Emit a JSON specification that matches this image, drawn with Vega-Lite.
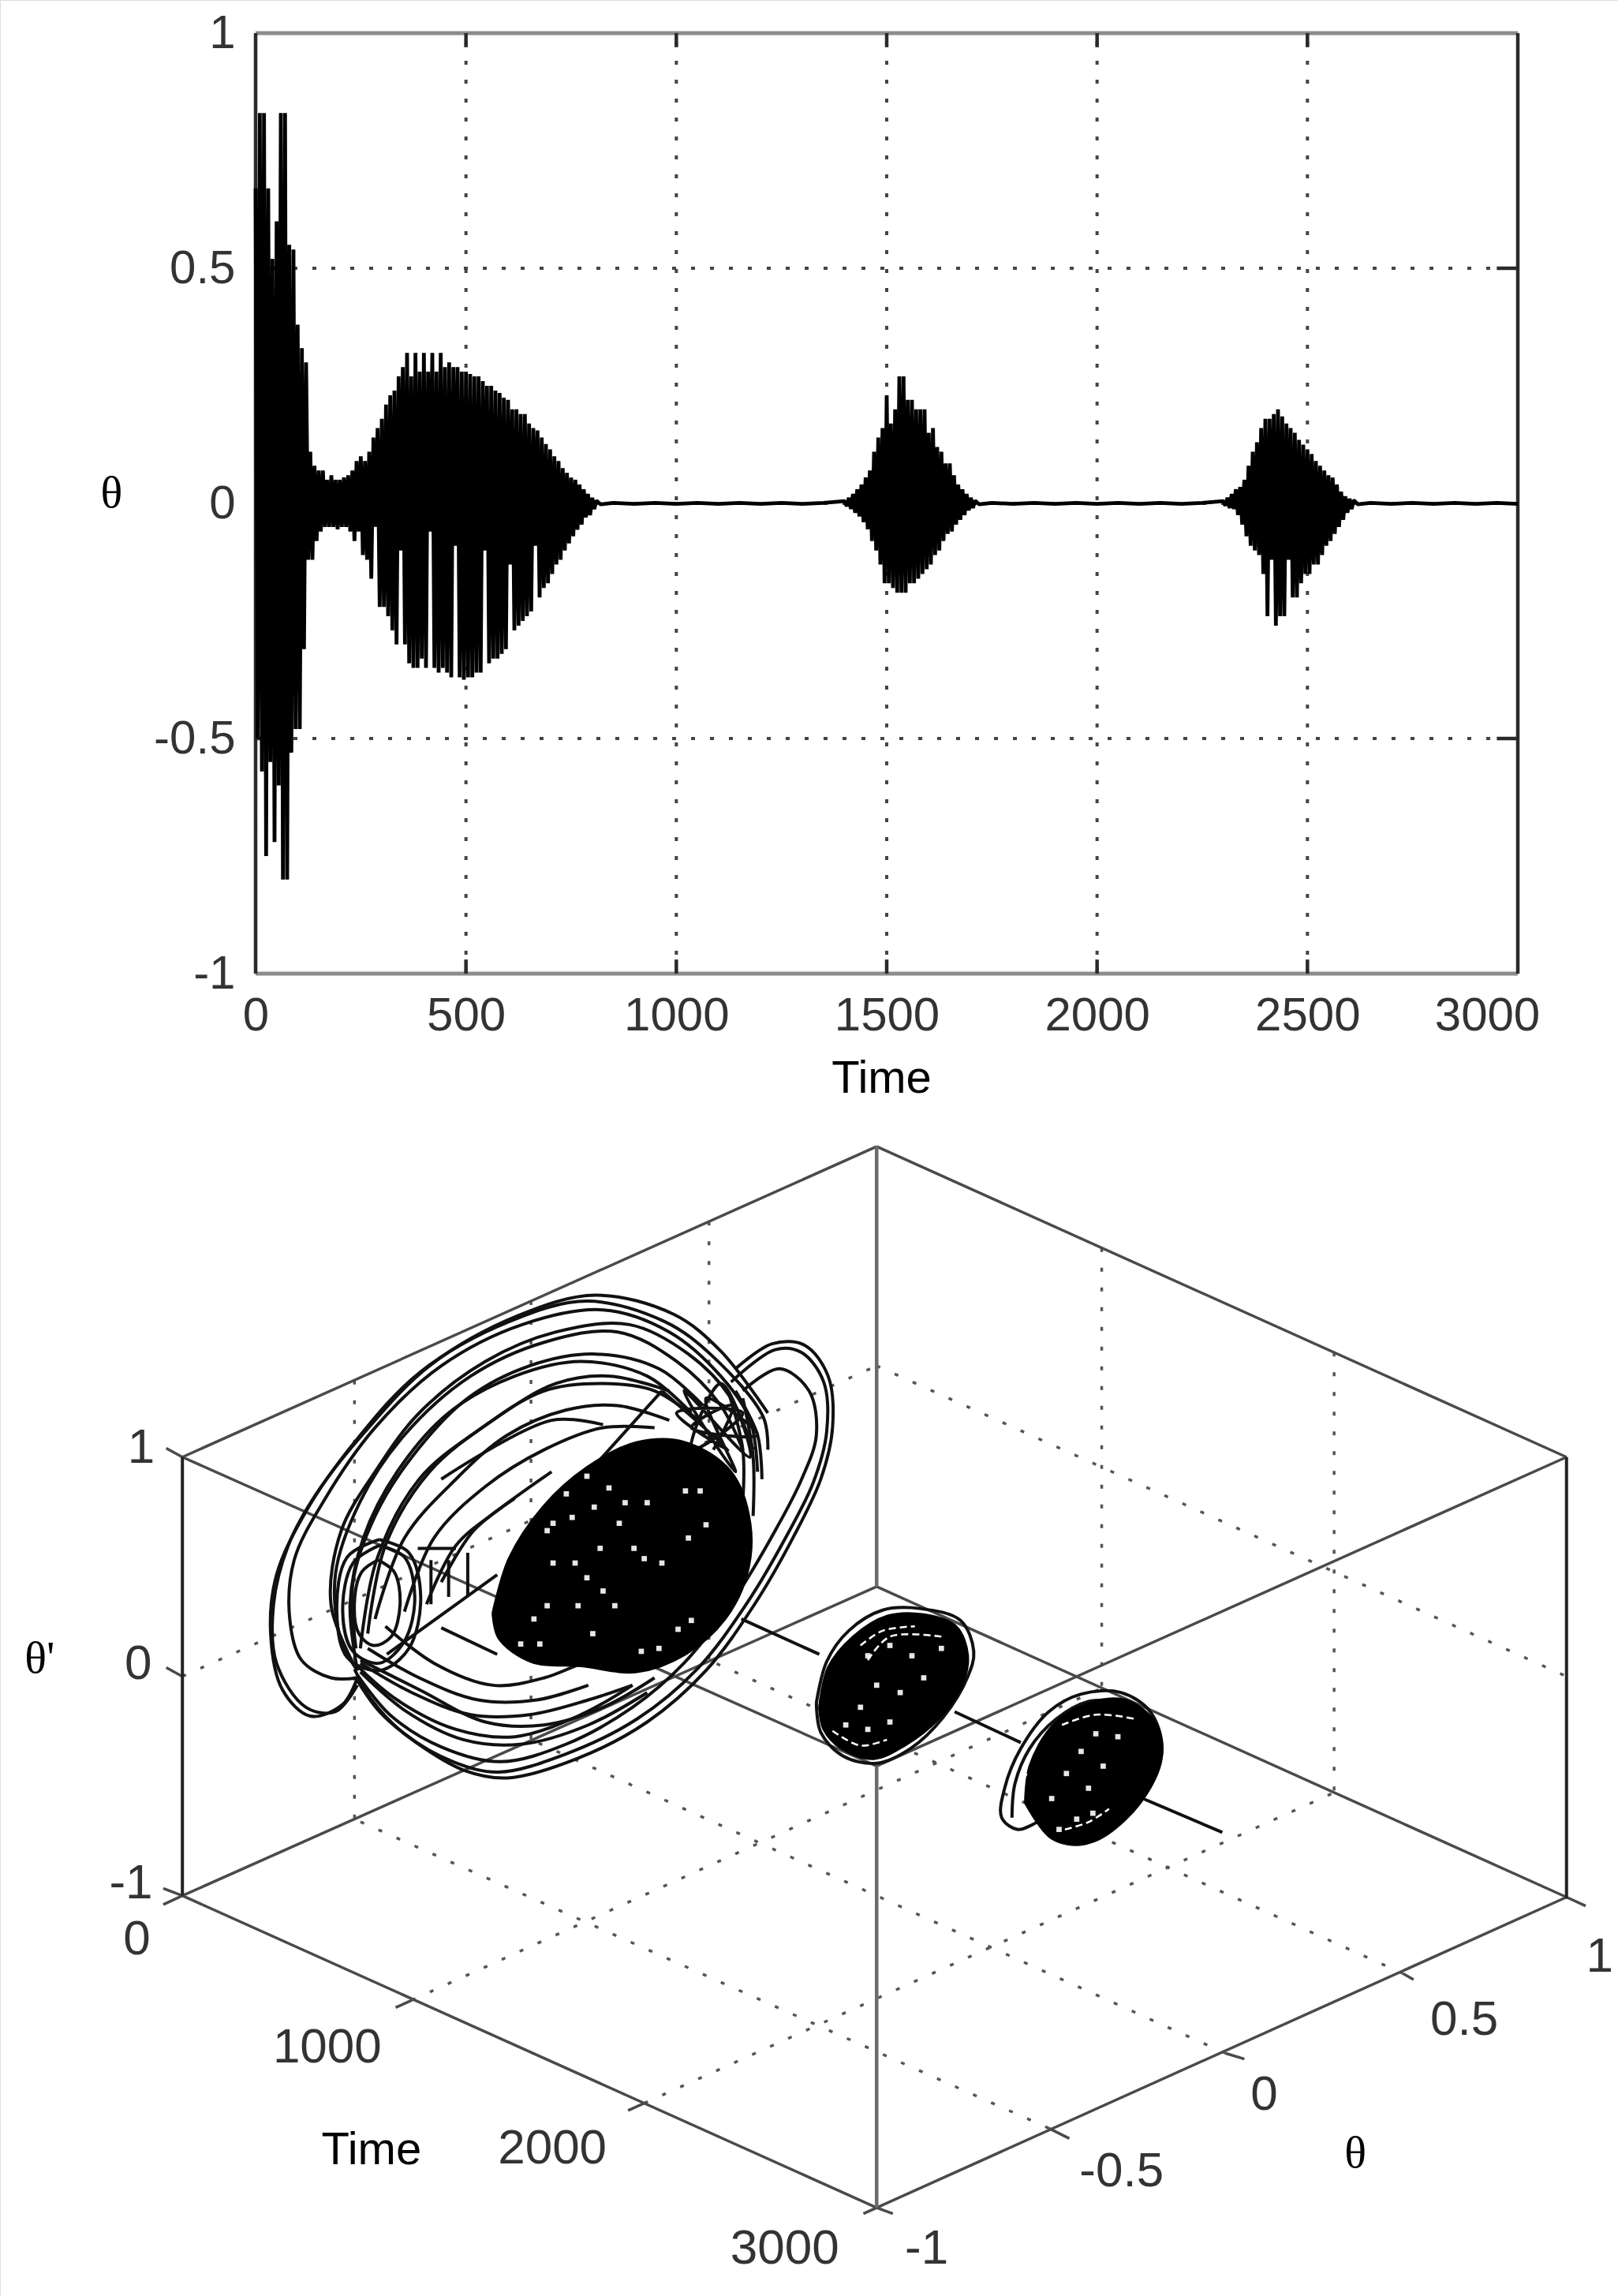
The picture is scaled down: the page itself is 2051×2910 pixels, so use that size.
{"$schema":"https://vega.github.io/schema/vega-lite/v6.json","width":2051,"height":2910,"padding":0,"autosize":{"type":"none"},"background":"white",
"datasets":{
"wave":[{"t":0,"v":0.67},{"t":5,"v":-0.5},{"t":10,"v":0.83},{"t":15,"v":-0.57},{"t":20,"v":0.83},{"t":25,"v":-0.75},{"t":30,"v":0.67},{"t":35,"v":-0.55},{"t":40,"v":0.52},{"t":45,"v":-0.72},{"t":50,"v":0.6},{"t":55,"v":-0.6},{"t":60,"v":0.83},{"t":65,"v":-0.8},{"t":70,"v":0.83},{"t":75,"v":-0.8},{"t":80,"v":0.55},{"t":85,"v":-0.53},{"t":90,"v":0.54},{"t":95,"v":-0.48},{"t":100,"v":0.38},{"t":105,"v":-0.48},{"t":110,"v":0.33},{"t":115,"v":-0.31},{"t":120,"v":0.3},{"t":125,"v":-0.12},{"t":130,"v":0.11},{"t":135,"v":-0.12},{"t":140,"v":0.08},{"t":145,"v":-0.08},{"t":150,"v":0.07},{"t":155,"v":-0.06},{"t":160,"v":0.07},{"t":165,"v":-0.05},{"t":170,"v":0.05},{"t":175,"v":-0.05},{"t":180,"v":0.06},{"t":185,"v":-0.05},{"t":190,"v":0.05},{"t":195,"v":-0.055},{"t":200,"v":0.05},{"t":205,"v":-0.05},{"t":210,"v":0.055},{"t":215,"v":-0.05},{"t":220,"v":0.06},{"t":225,"v":-0.06},{"t":230,"v":0.07},{"t":235,"v":-0.08},{"t":240,"v":0.09},{"t":245,"v":-0.06},{"t":250,"v":0.1},{"t":255,"v":-0.11},{"t":260,"v":0.09},{"t":265,"v":-0.12},{"t":270,"v":0.11},{"t":275,"v":-0.16},{"t":280,"v":0.14},{"t":285,"v":-0.05},{"t":290,"v":0.16},{"t":295,"v":-0.22},{"t":300,"v":0.18},{"t":305,"v":-0.22},{"t":310,"v":0.21},{"t":315,"v":-0.24},{"t":320,"v":0.23},{"t":325,"v":-0.27},{"t":330,"v":0.24},{"t":335,"v":-0.3},{"t":340,"v":0.27},{"t":345,"v":-0.1},{"t":350,"v":0.29},{"t":355,"v":-0.3},{"t":360,"v":0.32},{"t":365,"v":-0.34},{"t":370,"v":0.27},{"t":375,"v":-0.35},{"t":380,"v":0.32},{"t":385,"v":-0.35},{"t":390,"v":0.28},{"t":395,"v":-0.33},{"t":400,"v":0.32},{"t":405,"v":-0.35},{"t":410,"v":0.28},{"t":415,"v":-0.06},{"t":420,"v":0.32},{"t":425,"v":-0.35},{"t":430,"v":0.28},{"t":435,"v":-0.36},{"t":440,"v":0.32},{"t":445,"v":-0.35},{"t":450,"v":0.29},{"t":455,"v":-0.36},{"t":460,"v":0.3},{"t":465,"v":-0.37},{"t":470,"v":0.29},{"t":475,"v":-0.09},{"t":480,"v":0.29},{"t":485,"v":-0.37},{"t":490,"v":0.28},{"t":495,"v":-0.375},{"t":500,"v":0.28},{"t":505,"v":-0.37},{"t":510,"v":0.275},{"t":515,"v":-0.37},{"t":520,"v":0.27},{"t":525,"v":-0.36},{"t":530,"v":0.27},{"t":535,"v":-0.36},{"t":540,"v":0.26},{"t":545,"v":-0.1},{"t":550,"v":0.25},{"t":555,"v":-0.34},{"t":560,"v":0.25},{"t":565,"v":-0.33},{"t":570,"v":0.24},{"t":575,"v":-0.33},{"t":580,"v":0.235},{"t":585,"v":-0.32},{"t":590,"v":0.225},{"t":595,"v":-0.31},{"t":600,"v":0.22},{"t":605,"v":-0.13},{"t":610,"v":0.2},{"t":615,"v":-0.27},{"t":620,"v":0.2},{"t":625,"v":-0.26},{"t":630,"v":0.19},{"t":635,"v":-0.25},{"t":640,"v":0.19},{"t":645,"v":-0.24},{"t":650,"v":0.17},{"t":655,"v":-0.23},{"t":660,"v":0.16},{"t":665,"v":-0.09},{"t":670,"v":0.155},{"t":675,"v":-0.2},{"t":680,"v":0.14},{"t":685,"v":-0.18},{"t":690,"v":0.126},{"t":695,"v":-0.17},{"t":700,"v":0.115},{"t":705,"v":-0.15},{"t":710,"v":0.1},{"t":715,"v":-0.13},{"t":720,"v":0.09},{"t":725,"v":-0.12},{"t":730,"v":0.075},{"t":735,"v":-0.1},{"t":740,"v":0.065},{"t":745,"v":-0.085},{"t":750,"v":0.055},{"t":755,"v":-0.07},{"t":760,"v":0.05},{"t":765,"v":-0.056},{"t":770,"v":0.04},{"t":775,"v":-0.045},{"t":780,"v":0.03},{"t":785,"v":-0.03},{"t":790,"v":0.02},{"t":795,"v":-0.025},{"t":800,"v":0.012},{"t":805,"v":-0.012},{"t":810,"v":0.006},{"t":820,"v":-0.002},{"t":850,"v":0.001},{"t":900,"v":-0.001},{"t":950,"v":0.001},{"t":1000,"v":-0.001},{"t":1050,"v":0.001},{"t":1100,"v":-0.001},{"t":1150,"v":0.001},{"t":1200,"v":-0.001},{"t":1250,"v":0.001},{"t":1300,"v":-0.001},{"t":1350,"v":0.001},{"t":1400,"v":0.005},{"t":1405,"v":-0.006},{"t":1410,"v":0.012},{"t":1415,"v":-0.012},{"t":1420,"v":0.02},{"t":1425,"v":-0.02},{"t":1430,"v":0.03},{"t":1435,"v":-0.028},{"t":1440,"v":0.04},{"t":1445,"v":-0.04},{"t":1450,"v":0.055},{"t":1455,"v":-0.055},{"t":1460,"v":0.07},{"t":1465,"v":-0.08},{"t":1470,"v":0.11},{"t":1475,"v":-0.1},{"t":1480,"v":0.14},{"t":1485,"v":-0.13},{"t":1490,"v":0.16},{"t":1495,"v":-0.17},{"t":1500,"v":0.23},{"t":1505,"v":-0.17},{"t":1510,"v":0.17},{"t":1515,"v":-0.18},{"t":1520,"v":0.2},{"t":1525,"v":-0.19},{"t":1530,"v":0.27},{"t":1535,"v":-0.19},{"t":1540,"v":0.27},{"t":1545,"v":-0.19},{"t":1550,"v":0.22},{"t":1555,"v":-0.17},{"t":1560,"v":0.22},{"t":1565,"v":-0.17},{"t":1570,"v":0.2},{"t":1575,"v":-0.16},{"t":1580,"v":0.2},{"t":1585,"v":-0.15},{"t":1590,"v":0.2},{"t":1595,"v":-0.14},{"t":1600,"v":0.15},{"t":1605,"v":-0.13},{"t":1610,"v":0.16},{"t":1615,"v":-0.11},{"t":1620,"v":0.12},{"t":1625,"v":-0.1},{"t":1630,"v":0.11},{"t":1635,"v":-0.08},{"t":1640,"v":0.085},{"t":1645,"v":-0.065},{"t":1650,"v":0.085},{"t":1655,"v":-0.06},{"t":1660,"v":0.06},{"t":1665,"v":-0.045},{"t":1670,"v":0.04},{"t":1675,"v":-0.035},{"t":1680,"v":0.03},{"t":1685,"v":-0.025},{"t":1690,"v":0.02},{"t":1695,"v":-0.015},{"t":1700,"v":0.012},{"t":1705,"v":-0.01},{"t":1710,"v":0.006},{"t":1720,"v":-0.002},{"t":1750,"v":0.001},{"t":1800,"v":-0.001},{"t":1850,"v":0.001},{"t":1900,"v":-0.001},{"t":1950,"v":0.001},{"t":2000,"v":-0.001},{"t":2050,"v":0.001},{"t":2100,"v":-0.001},{"t":2150,"v":0.001},{"t":2200,"v":-0.001},{"t":2250,"v":0.001},{"t":2300,"v":0.005},{"t":2305,"v":-0.005},{"t":2310,"v":0.012},{"t":2315,"v":-0.01},{"t":2320,"v":0.02},{"t":2325,"v":-0.012},{"t":2330,"v":0.03},{"t":2335,"v":-0.025},{"t":2340,"v":0.035},{"t":2345,"v":-0.045},{"t":2350,"v":0.05},{"t":2355,"v":-0.07},{"t":2360,"v":0.08},{"t":2365,"v":-0.09},{"t":2370,"v":0.11},{"t":2375,"v":-0.1},{"t":2380,"v":0.13},{"t":2385,"v":-0.11},{"t":2390,"v":0.16},{"t":2395,"v":-0.15},{"t":2400,"v":0.18},{"t":2405,"v":-0.24},{"t":2410,"v":0.18},{"t":2415,"v":-0.12},{"t":2420,"v":0.19},{"t":2425,"v":-0.26},{"t":2430,"v":0.2},{"t":2435,"v":-0.24},{"t":2440,"v":0.185},{"t":2445,"v":-0.24},{"t":2450,"v":0.17},{"t":2455,"v":-0.12},{"t":2460,"v":0.16},{"t":2465,"v":-0.2},{"t":2470,"v":0.15},{"t":2475,"v":-0.2},{"t":2480,"v":0.135},{"t":2485,"v":-0.17},{"t":2490,"v":0.125},{"t":2495,"v":-0.15},{"t":2500,"v":0.115},{"t":2505,"v":-0.15},{"t":2510,"v":0.105},{"t":2515,"v":-0.13},{"t":2520,"v":0.09},{"t":2525,"v":-0.13},{"t":2530,"v":0.08},{"t":2535,"v":-0.11},{"t":2540,"v":0.07},{"t":2545,"v":-0.09},{"t":2550,"v":0.06},{"t":2555,"v":-0.08},{"t":2560,"v":0.055},{"t":2565,"v":-0.065},{"t":2570,"v":0.04},{"t":2575,"v":-0.05},{"t":2580,"v":0.025},{"t":2585,"v":-0.035},{"t":2590,"v":0.015},{"t":2595,"v":-0.02},{"t":2600,"v":0.01},{"t":2605,"v":-0.012},{"t":2610,"v":0.007},{"t":2620,"v":-0.002},{"t":2650,"v":0.001},{"t":2700,"v":-0.001},{"t":2750,"v":0.001},{"t":2800,"v":-0.001},{"t":2850,"v":0.001},{"t":2900,"v":-0.001},{"t":2950,"v":0.001},{"t":3000,"v":-0.001}],
"orbits":[
{"o":"T1","i":0,"u":243,"v":1140},{"o":"T1","i":1,"u":233,"v":1158},{"o":"T1","i":2,"u":211,"v":1166},{"o":"T1","i":3,"u":192,"v":1148},{"o":"T1","i":4,"u":184,"v":1110},{"o":"T1","i":5,"u":188,"v":1070},{"o":"T1","i":6,"u":208,"v":1027},{"o":"T1","i":7,"u":241,"v":980},{"o":"T1","i":8,"u":286,"v":932},{"o":"T1","i":9,"u":346,"v":898},{"o":"T1","i":10,"u":399,"v":884},{"o":"T1","i":11,"u":452,"v":898},{"o":"T1","i":12,"u":485,"v":922},{"o":"T1","i":13,"u":519,"v":963},{"o":"T1","i":14,"u":522,"v":985},
{"o":"T1b","i":0,"u":243,"v":1145},{"o":"T1b","i":1,"u":228,"v":1163},{"o":"T1b","i":2,"u":208,"v":1160},{"o":"T1b","i":3,"u":188,"v":1130},{"o":"T1b","i":4,"u":186,"v":1090},{"o":"T1b","i":5,"u":196,"v":1050},{"o":"T1b","i":6,"u":215,"v":1015},{"o":"T1b","i":7,"u":248,"v":973},{"o":"T1b","i":8,"u":292,"v":928},{"o":"T1b","i":9,"u":352,"v":894},{"o":"T1b","i":10,"u":405,"v":880},{"o":"T1b","i":11,"u":458,"v":893},{"o":"T1b","i":12,"u":490,"v":918},{"o":"T1b","i":13,"u":522,"v":960},
{"o":"T2","i":0,"u":243,"v":1140},{"o":"T2","i":1,"u":225,"v":1140},{"o":"T2","i":2,"u":205,"v":1128},{"o":"T2","i":3,"u":197,"v":1100},{"o":"T2","i":4,"u":200,"v":1060},{"o":"T2","i":5,"u":220,"v":1020},{"o":"T2","i":6,"u":255,"v":970},{"o":"T2","i":7,"u":300,"v":928},{"o":"T2","i":8,"u":355,"v":900},{"o":"T2","i":9,"u":410,"v":890},{"o":"T2","i":10,"u":455,"v":905},{"o":"T2","i":11,"u":490,"v":935},{"o":"T2","i":12,"u":510,"v":965},{"o":"T2","i":13,"u":515,"v":1000},
{"o":"T3","i":0,"u":243,"v":1135},{"o":"T3","i":1,"u":232,"v":1115},{"o":"T3","i":2,"u":228,"v":1070},{"o":"T3","i":3,"u":245,"v":1020},{"o":"T3","i":4,"u":275,"v":975},{"o":"T3","i":5,"u":320,"v":935},{"o":"T3","i":6,"u":370,"v":912},{"o":"T3","i":7,"u":420,"v":905},{"o":"T3","i":8,"u":460,"v":925},{"o":"T3","i":9,"u":490,"v":955},{"o":"T3","i":10,"u":505,"v":985},
{"o":"T3b","i":0,"u":240,"v":1130},{"o":"T3b","i":1,"u":225,"v":1090},{"o":"T3b","i":2,"u":232,"v":1040},{"o":"T3b","i":3,"u":255,"v":1000},{"o":"T3b","i":4,"u":285,"v":960},{"o":"T3b","i":5,"u":330,"v":925},{"o":"T3b","i":6,"u":378,"v":905},{"o":"T3b","i":7,"u":428,"v":900},{"o":"T3b","i":8,"u":468,"v":920},{"o":"T3b","i":9,"u":497,"v":950},{"o":"T3b","i":10,"u":512,"v":985},
{"o":"T4","i":0,"u":243,"v":1135},{"o":"T4","i":1,"u":238,"v":1090},{"o":"T4","i":2,"u":247,"v":1045},{"o":"T4","i":3,"u":270,"v":1000},{"o":"T4","i":4,"u":305,"v":960},{"o":"T4","i":5,"u":350,"v":935},{"o":"T4","i":6,"u":395,"v":925},{"o":"T4","i":7,"u":440,"v":935},{"o":"T4","i":8,"u":470,"v":960},
{"o":"T4b","i":0,"u":242,"v":1120},{"o":"T4b","i":1,"u":240,"v":1075},{"o":"T4b","i":2,"u":255,"v":1030},{"o":"T4b","i":3,"u":280,"v":990},{"o":"T4b","i":4,"u":318,"v":950},{"o":"T4b","i":5,"u":360,"v":928},{"o":"T4b","i":6,"u":405,"v":920},{"o":"T4b","i":7,"u":448,"v":930},{"o":"T4b","i":8,"u":478,"v":955},
{"o":"T5","i":0,"u":245,"v":1120},{"o":"T5","i":1,"u":256,"v":1060},{"o":"T5","i":2,"u":285,"v":1005},{"o":"T5","i":3,"u":325,"v":972},{"o":"T5","i":4,"u":370,"v":945},{"o":"T5","i":5,"u":410,"v":940},{"o":"T5","i":6,"u":445,"v":945},{"o":"T5","i":7,"u":475,"v":965},
{"o":"T5b","i":0,"u":250,"v":1110},{"o":"T5b","i":1,"u":262,"v":1050},{"o":"T5b","i":2,"u":292,"v":1000},{"o":"T5b","i":3,"u":335,"v":965},{"o":"T5b","i":4,"u":378,"v":940},{"o":"T5b","i":5,"u":415,"v":935},{"o":"T5b","i":6,"u":455,"v":945},
{"o":"T6","i":0,"u":255,"v":1100},{"o":"T6","i":1,"u":275,"v":1045},{"o":"T6","i":2,"u":310,"v":1005},{"o":"T6","i":3,"u":345,"v":975},{"o":"T6","i":4,"u":385,"v":958},{"o":"T6","i":5,"u":420,"v":955},{"o":"T6","i":6,"u":455,"v":965},
{"o":"T7","i":0,"u":275,"v":1095},{"o":"T7","i":1,"u":295,"v":1045},{"o":"T7","i":2,"u":330,"v":1010},{"o":"T7","i":3,"u":370,"v":985},{"o":"T7","i":4,"u":410,"v":970},{"o":"T7","i":5,"u":445,"v":970},
{"o":"T8","i":0,"u":290,"v":1090},{"o":"T8","i":1,"u":310,"v":1050},{"o":"T8","i":2,"u":340,"v":1025},{"o":"T8","i":3,"u":375,"v":1000},
{"o":"T9","i":0,"u":300,"v":1075},{"o":"T9","i":1,"u":322,"v":1040},{"o":"T9","i":2,"u":350,"v":1018},
{"o":"B1","i":0,"u":241,"v":1134},{"o":"B1","i":1,"u":252,"v":1154},{"o":"B1","i":2,"u":275,"v":1178},{"o":"B1","i":3,"u":308,"v":1197},{"o":"B1","i":4,"u":339,"v":1204},{"o":"B1","i":5,"u":384,"v":1192},{"o":"B1","i":6,"u":433,"v":1168},{"o":"B1","i":7,"u":474,"v":1134},{"o":"B1","i":8,"u":508,"v":1089},{"o":"B1","i":9,"u":534,"v":1045},{"o":"B1","i":10,"u":553,"v":1007},{"o":"B1","i":11,"u":562,"v":973},{"o":"B1","i":12,"u":560,"v":939},{"o":"B1","i":13,"u":545,"v":919},{"o":"B1","i":14,"u":527,"v":917},{"o":"B1","i":15,"u":497,"v":939},
{"o":"B1b","i":0,"u":243,"v":1142},{"o":"B1b","i":1,"u":258,"v":1163},{"o":"B1b","i":2,"u":283,"v":1184},{"o":"B1b","i":3,"u":316,"v":1203},{"o":"B1b","i":4,"u":345,"v":1208},{"o":"B1b","i":5,"u":392,"v":1195},{"o":"B1b","i":6,"u":440,"v":1170},{"o":"B1b","i":7,"u":480,"v":1135},{"o":"B1b","i":8,"u":513,"v":1090},{"o":"B1b","i":9,"u":539,"v":1045},{"o":"B1b","i":10,"u":558,"v":1005},{"o":"B1b","i":11,"u":566,"v":970},{"o":"B1b","i":12,"u":563,"v":935},{"o":"B1b","i":13,"u":547,"v":914},{"o":"B1b","i":14,"u":525,"v":913},{"o":"B1b","i":15,"u":500,"v":930},
{"o":"B2","i":0,"u":243,"v":1138},{"o":"B2","i":1,"u":265,"v":1165},{"o":"B2","i":2,"u":300,"v":1187},{"o":"B2","i":3,"u":340,"v":1197},{"o":"B2","i":4,"u":385,"v":1185},{"o":"B2","i":5,"u":430,"v":1160},{"o":"B2","i":6,"u":465,"v":1130},{"o":"B2","i":7,"u":500,"v":1085},{"o":"B2","i":8,"u":527,"v":1040},{"o":"B2","i":9,"u":545,"v":1005},{"o":"B2","i":10,"u":555,"v":975},{"o":"B2","i":11,"u":550,"v":945},{"o":"B2","i":12,"u":530,"v":930},{"o":"B2","i":13,"u":505,"v":945},
{"o":"B3","i":0,"u":243,"v":1132},{"o":"B3","i":1,"u":270,"v":1155},{"o":"B3","i":2,"u":310,"v":1175},{"o":"B3","i":3,"u":350,"v":1180},{"o":"B3","i":4,"u":395,"v":1165},{"o":"B3","i":5,"u":430,"v":1145},
{"o":"B3b","i":0,"u":245,"v":1136},{"o":"B3b","i":1,"u":275,"v":1162},{"o":"B3b","i":2,"u":315,"v":1182},{"o":"B3b","i":3,"u":355,"v":1185},{"o":"B3b","i":4,"u":400,"v":1172},{"o":"B3b","i":5,"u":440,"v":1150},
{"o":"B4","i":0,"u":245,"v":1130},{"o":"B4","i":1,"u":280,"v":1150},{"o":"B4","i":2,"u":320,"v":1165},{"o":"B4","i":3,"u":360,"v":1165},{"o":"B4","i":4,"u":400,"v":1155},{"o":"B4","i":5,"u":430,"v":1145},
{"o":"B4b","i":0,"u":245,"v":1128},{"o":"B4b","i":1,"u":285,"v":1148},{"o":"B4b","i":2,"u":330,"v":1170},{"o":"B4b","i":3,"u":370,"v":1172},{"o":"B4b","i":4,"u":410,"v":1160},{"o":"B4b","i":5,"u":445,"v":1140},
{"o":"B5","i":0,"u":250,"v":1120},{"o":"B5","i":1,"u":285,"v":1140},{"o":"B5","i":2,"u":325,"v":1155},{"o":"B5","i":3,"u":365,"v":1155},{"o":"B5","i":4,"u":400,"v":1145},
{"o":"B6","i":0,"u":262,"v":1105},{"o":"B6","i":1,"u":295,"v":1130},{"o":"B6","i":2,"u":335,"v":1145},{"o":"B6","i":3,"u":370,"v":1140},{"o":"B6","i":4,"u":395,"v":1130},
{"o":"S1","i":0,"u":258,"v":1050},{"o":"S1","i":1,"u":275,"v":1058},{"o":"S1","i":2,"u":282,"v":1085},{"o":"S1","i":3,"u":275,"v":1115},{"o":"S1","i":4,"u":258,"v":1130},{"o":"S1","i":5,"u":240,"v":1122},{"o":"S1","i":6,"u":233,"v":1095},{"o":"S1","i":7,"u":240,"v":1062},{"o":"S1","i":8,"u":258,"v":1050},
{"o":"S2","i":0,"u":257,"v":1060},{"o":"S2","i":1,"u":268,"v":1068},{"o":"S2","i":2,"u":272,"v":1090},{"o":"S2","i":3,"u":266,"v":1112},{"o":"S2","i":4,"u":254,"v":1118},{"o":"S2","i":5,"u":244,"v":1110},{"o":"S2","i":6,"u":241,"v":1088},{"o":"S2","i":7,"u":246,"v":1068},{"o":"S2","i":8,"u":257,"v":1060},
{"o":"S3","i":0,"u":258,"v":1046},{"o":"S3","i":1,"u":278,"v":1055},{"o":"S3","i":2,"u":286,"v":1085},{"o":"S3","i":3,"u":278,"v":1120},{"o":"S3","i":4,"u":258,"v":1135},{"o":"S3","i":5,"u":236,"v":1126},{"o":"S3","i":6,"u":229,"v":1095},{"o":"S3","i":7,"u":236,"v":1058},{"o":"S3","i":8,"u":258,"v":1046},
{"o":"R1","i":0,"u":500,"v":945},{"o":"R1","i":1,"u":515,"v":975},{"o":"R1","i":2,"u":518,"v":1005},
{"o":"R2","i":0,"u":505,"v":950},{"o":"R2","i":1,"u":512,"v":990},{"o":"R2","i":2,"u":512,"v":1030},
{"o":"R3","i":0,"u":495,"v":945},{"o":"R3","i":1,"u":505,"v":985},{"o":"R3","i":2,"u":505,"v":1020},
{"o":"C1","i":0,"u":263,"v":1124},{"o":"C1","i":1,"u":338,"v":1070},
{"o":"C2","i":0,"u":300,"v":1106},{"o":"C2","i":1,"u":338,"v":1124},
{"o":"C3","i":0,"u":284,"v":1052},{"o":"C3","i":1,"u":310,"v":1052},
{"o":"C4","i":0,"u":293,"v":1060},{"o":"C4","i":1,"u":293,"v":1090},
{"o":"C5","i":0,"u":305,"v":1060},{"o":"C5","i":1,"u":305,"v":1085},
{"o":"C6","i":0,"u":318,"v":1055},{"o":"C6","i":1,"u":318,"v":1085},
{"o":"C7","i":0,"u":300,"v":1005},{"o":"C7","i":1,"u":375,"v":965},{"o":"C7","i":2,"u":410,"v":968},
{"o":"C8","i":0,"u":405,"v":995},{"o":"C8","i":1,"u":450,"v":945},
{"o":"X","i":0,"u":450,"v":945},{"o":"X","i":1,"u":495,"v":985},{"o":"X","i":2,"u":460,"v":960},{"o":"X","i":3,"u":505,"v":960},{"o":"X","i":4,"u":470,"v":985},{"o":"X","i":5,"u":490,"v":940},{"o":"X","i":6,"u":510,"v":990},{"o":"X","i":7,"u":465,"v":945},{"o":"X","i":8,"u":500,"v":1000},{"o":"X","i":9,"u":480,"v":950},{"o":"X","i":10,"u":515,"v":975},{"o":"X","i":11,"u":470,"v":970},{"o":"X","i":12,"u":498,"v":955},{"o":"X","i":13,"u":485,"v":985},
{"o":"L1","i":0,"u":504,"v":1100},{"o":"L1","i":1,"u":557,"v":1124},
{"o":"L2","i":0,"u":649,"v":1163},{"o":"L2","i":1,"u":694,"v":1184},
{"o":"L3","i":0,"u":777,"v":1222},{"o":"L3","i":1,"u":831,"v":1245},
{"o":"M1","i":0,"u":555,"v":1157},{"o":"M1","i":1,"u":562,"v":1129},{"o":"M1","i":2,"u":577,"v":1108},{"o":"M1","i":3,"u":600,"v":1094},{"o":"M1","i":4,"u":626,"v":1093},{"o":"M1","i":5,"u":653,"v":1101},{"o":"M1","i":6,"u":662,"v":1122},{"o":"M1","i":7,"u":658,"v":1139},{"o":"M1","i":8,"u":641,"v":1167},{"o":"M1","i":9,"u":619,"v":1188},{"o":"M1","i":10,"u":596,"v":1198},{"o":"M1","i":11,"u":573,"v":1193},{"o":"M1","i":12,"u":558,"v":1177},{"o":"M1","i":13,"u":555,"v":1157},
{"o":"N1","i":0,"u":705,"v":1238},{"o":"N1","i":1,"u":692,"v":1243},{"o":"N1","i":2,"u":681,"v":1235},{"o":"N1","i":3,"u":683,"v":1215},{"o":"N1","i":4,"u":694,"v":1188},{"o":"N1","i":5,"u":713,"v":1163},{"o":"N1","i":6,"u":735,"v":1151},{"o":"N1","i":7,"u":762,"v":1150},{"o":"N1","i":8,"u":782,"v":1163},{"o":"N1","i":9,"u":790,"v":1188},{"o":"N1","i":10,"u":781,"v":1215},{"o":"N1","i":11,"u":765,"v":1236},{"o":"N1","i":12,"u":743,"v":1251},{"o":"N1","i":13,"u":720,"v":1251},{"o":"N1","i":14,"u":709,"v":1243},
{"o":"N2","i":0,"u":688,"v":1235},{"o":"N2","i":1,"u":690,"v":1212},{"o":"N2","i":2,"u":700,"v":1188},{"o":"N2","i":3,"u":718,"v":1168},{"o":"N2","i":4,"u":740,"v":1156},{"o":"N2","i":5,"u":765,"v":1156}
],
"blobs":[
{"b":"A","i":0,"u":335,"v":1096},{"b":"A","i":1,"u":346,"v":1059},{"b":"A","i":2,"u":369,"v":1024},{"b":"A","i":3,"u":399,"v":997},{"b":"A","i":4,"u":433,"v":980},{"b":"A","i":5,"u":466,"v":980},{"b":"A","i":6,"u":497,"v":1000},{"b":"A","i":7,"u":510,"v":1035},{"b":"A","i":8,"u":508,"v":1069},{"b":"A","i":9,"u":493,"v":1100},{"b":"A","i":10,"u":466,"v":1124},{"b":"A","i":11,"u":433,"v":1136},{"b":"A","i":12,"u":395,"v":1132},{"b":"A","i":13,"u":361,"v":1129},{"b":"A","i":14,"u":339,"v":1113},{"b":"A","i":15,"u":335,"v":1096},
{"b":"B","i":0,"u":557,"v":1160},{"b":"B","i":1,"u":563,"v":1133},{"b":"B","i":2,"u":580,"v":1112},{"b":"B","i":3,"u":603,"v":1098},{"b":"B","i":4,"u":628,"v":1097},{"b":"B","i":5,"u":650,"v":1105},{"b":"B","i":6,"u":658,"v":1125},{"b":"B","i":7,"u":654,"v":1145},{"b":"B","i":8,"u":638,"v":1168},{"b":"B","i":9,"u":615,"v":1186},{"b":"B","i":10,"u":594,"v":1195},{"b":"B","i":11,"u":572,"v":1188},{"b":"B","i":12,"u":560,"v":1175},{"b":"B","i":13,"u":557,"v":1160},
{"b":"C","i":0,"u":697,"v":1225},{"b":"C","i":1,"u":700,"v":1200},{"b":"C","i":2,"u":716,"v":1172},{"b":"C","i":3,"u":738,"v":1158},{"b":"C","i":4,"u":765,"v":1155},{"b":"C","i":5,"u":785,"v":1170},{"b":"C","i":6,"u":790,"v":1192},{"b":"C","i":7,"u":780,"v":1218},{"b":"C","i":8,"u":760,"v":1240},{"b":"C","i":9,"u":737,"v":1253},{"b":"C","i":10,"u":715,"v":1249},{"b":"C","i":11,"u":697,"v":1225}
],
"gaps":[
{"g":"a","i":0,"u":585,"v":1118},{"g":"a","i":1,"u":600,"v":1108},{"g":"a","i":2,"u":622,"v":1105},
{"g":"b","i":0,"u":590,"v":1128},{"g":"b","i":1,"u":605,"v":1112},{"g":"b","i":2,"u":640,"v":1112},
{"g":"c","i":0,"u":566,"v":1176},{"g":"c","i":1,"u":585,"v":1186},{"g":"c","i":2,"u":603,"v":1182},
{"g":"d","i":0,"u":724,"v":1243},{"g":"d","i":1,"u":740,"v":1238},{"g":"d","i":2,"u":754,"v":1229},
{"g":"e","i":0,"u":722,"v":1172},{"g":"e","i":1,"u":745,"v":1165},{"g":"e","i":2,"u":772,"v":1168},
{"g":"f","i":0,"u":694,"v":1236},{"g":"f","i":1,"u":692,"v":1220},{"g":"f","i":2,"u":698,"v":1205}
],
"specks":[{"u":414,"v":1011},{"u":425,"v":1021},{"u":440,"v":1021},{"u":421,"v":1035},{"u":404,"v":1024},{"u":389,"v":1031},{"u":466,"v":1013},{"u":476,"v":1013},{"u":468,"v":1045},{"u":480,"v":1036},{"u":431,"v":1052},{"u":408,"v":1052},{"u":376,"v":1062},{"u":391,"v":1062},{"u":438,"v":1059},{"u":450,"v":1062},{"u":399,"v":1072},{"u":410,"v":1081},{"u":372,"v":1091},{"u":363,"v":1100},{"u":367,"v":1117},{"u":354,"v":1117},{"u":393,"v":1091},{"u":418,"v":1091},{"u":448,"v":1120},{"u":461,"v":1107},{"u":470,"v":1101},{"u":436,"v":1122},{"u":403,"v":1110},{"u":376,"v":1035},{"u":399,"v":1003},{"u":385,"v":1015},{"u":372,"v":1040},
{"u":590,"v":1125},{"u":605,"v":1118},{"u":620,"v":1125},{"u":596,"v":1145},{"u":612,"v":1150},{"u":585,"v":1160},{"u":628,"v":1140},{"u":590,"v":1175},{"u":575,"v":1172},{"u":605,"v":1170},{"u":640,"v":1120},
{"u":732,"v":1236},{"u":743,"v":1232},{"u":720,"v":1243},{"u":735,"v":1190},{"u":750,"v":1200},{"u":725,"v":1205},{"u":745,"v":1178},{"u":760,"v":1180},{"u":715,"v":1222},{"u":740,"v":1215}]
},
"layer":[
{"encoding":{"x":{"field":"t","type":"quantitative","scale":{"domain":[0,3000],"range":[324,1924]},
"axis":{"orient":"bottom","offset":-1676,"values":[0,500,1000,1500,2000,2500,3000],"domain":false,"ticks":false,"grid":false,"labelFont":"Liberation Sans","labelFontSize":60,"labelColor":"#333333","labelPadding":24,"labelOverlap":false,"labelBound":false,"labelFlush":false,"labelOffset":{"condition":{"test":"datum.value===3000","value":-39},"value":0},"labelExpr":"''+datum.value","title":"Time","titleFont":"Liberation Sans","titleFontSize":58,"titleFontWeight":"normal","titleColor":"#000000","titleX":1117,"titleY":133,"titleAlign":"center","titleBaseline":"middle"}},
"y":{"field":"v","type":"quantitative","scale":{"domain":[-1,1],"range":[1234,42]},
"axis":{"orient":"left","offset":-324,"values":[-1,-0.5,0,0.5,1],"domain":false,"ticks":false,"grid":false,"labelFont":"Liberation Sans","labelFontSize":60,"labelColor":"#333333","labelPadding":26,"labelOverlap":false,"labelBound":false,"labelFlush":false,"labelExpr":"''+datum.value","title":"θ","titleFont":"Liberation Serif","titleFontSize":58,"titleFontWeight":"normal","titleColor":"#000000","titleAngle":0,"titleX":-183,"titleY":625,"titleAlign":"center","titleBaseline":"middle"}}},
"layer":[
{"data":{"values":[{"t":500,"t2":500,"v":-1,"v2":1},{"t":1000,"t2":1000,"v":-1,"v2":1},{"t":1500,"t2":1500,"v":-1,"v2":1},{"t":2000,"t2":2000,"v":-1,"v2":1},{"t":2500,"t2":2500,"v":-1,"v2":1},{"t":0,"t2":3000,"v":0.5,"v2":0.5},{"t":0,"t2":3000,"v":-0.5,"v2":-0.5},{"t":0,"t2":3000,"v":0,"v2":0}]},
"mark":{"type":"rule","color":"#444444","strokeWidth":4,"strokeDash":[5,19]},
"encoding":{"x2":{"field":"t2"},"y2":{"field":"v2"}}},
{"data":{"values":[{"t":0,"t2":3000,"v":1,"v2":1},{"t":0,"t2":3000,"v":-1,"v2":-1}]},
"mark":{"type":"rule","color":"#8c8c8c","strokeWidth":5},
"encoding":{"x2":{"field":"t2"},"y2":{"field":"v2"}}},
{"data":{"values":[{"t":0,"t2":0,"v":-1,"v2":1},{"t":3000,"t2":3000,"v":-1,"v2":1},{"t":2950,"t2":3000,"v":0.5,"v2":0.5},{"t":2950,"t2":3000,"v":-0.5,"v2":-0.5},{"t":0,"t2":50,"v":0.5,"v2":0.5},{"t":0,"t2":50,"v":-0.5,"v2":-0.5},{"t":500,"t2":500,"v":-1,"v2":-0.97},{"t":1000,"t2":1000,"v":-1,"v2":-0.97},{"t":1500,"t2":1500,"v":-1,"v2":-0.97},{"t":2000,"t2":2000,"v":-1,"v2":-0.97},{"t":2500,"t2":2500,"v":-1,"v2":-0.97},{"t":500,"t2":500,"v":1,"v2":0.97},{"t":1000,"t2":1000,"v":1,"v2":0.97},{"t":1500,"t2":1500,"v":1,"v2":0.97},{"t":2000,"t2":2000,"v":1,"v2":0.97},{"t":2500,"t2":2500,"v":1,"v2":0.97}]},
"mark":{"type":"rule","color":"#2a2a2a","strokeWidth":4.5},
"encoding":{"x2":{"field":"t2"},"y2":{"field":"v2"}}},
{"data":{"name":"wave"},
"mark":{"type":"line","color":"#000000","strokeWidth":4.8,"strokeJoin":"bevel"}}
]},
{"encoding":{"x":{"field":"u","type":"quantitative","scale":{"domain":[0,1100],"range":[0,2051]},"axis":null},"y":{"field":"v","type":"quantitative","scale":{"domain":[0,1560],"range":[0,2910]},"axis":null}},
"layer":[
{"data":{"values":[{"u":241,"u2":241,"v":938,"v2":1236},{"u":361,"u2":361,"v":884,"v2":1182},{"u":482,"u2":482,"v":830,"v2":1128},{"u":749,"u2":749,"v":848,"v2":1147},{"u":907,"u2":907,"v":919,"v2":1218},{"u":124,"u2":596,"v":1139,"v2":928},{"u":596,"u2":1065,"v":928,"v2":1139},{"u":280,"u2":749,"v":1359,"v2":1147},{"u":438,"u2":907,"v":1429,"v2":1218},{"u":713,"u2":241,"v":1446,"v2":1236},{"u":833,"u2":361,"v":1395,"v2":1182},{"u":954,"u2":482,"v":1341,"v2":1128}]},
"mark":{"type":"rule","color":"#555555","strokeWidth":3.5,"strokeDash":[5,20]},
"encoding":{"x2":{"field":"u2"},"y2":{"field":"v2"}}},
{"data":{"values":[{"u":124,"u2":596,"v":990,"v2":779},{"u":596,"u2":1065,"v":779,"v2":990},{"u":124,"u2":596,"v":990,"v2":1200},{"u":1065,"u2":596,"v":990,"v2":1200},{"u":124,"u2":596,"v":1288,"v2":1500},{"u":596,"u2":1065,"v":1500,"v2":1289},{"u":124,"u2":596,"v":1288,"v2":1078},{"u":596,"u2":1065,"v":1078,"v2":1289},{"u":113,"u2":124,"v":984,"v2":990},{"u":113,"u2":124,"v":1133,"v2":1139},{"u":111,"u2":124,"v":1283,"v2":1288},{"u":111,"u2":124,"v":1294,"v2":1288},{"u":269,"u2":280,"v":1364,"v2":1359},{"u":427,"u2":438,"v":1434,"v2":1429},{"u":587,"u2":596,"v":1504,"v2":1500},{"u":607,"u2":596,"v":1504,"v2":1500},{"u":727,"u2":713,"v":1453,"v2":1446},{"u":846,"u2":833,"v":1399,"v2":1395},{"u":961,"u2":954,"v":1345,"v2":1341},{"u":1078,"u2":1065,"v":1295,"v2":1289}]},
"mark":{"type":"rule","color":"#4a4a4a","strokeWidth":3.5},
"encoding":{"x2":{"field":"u2"},"y2":{"field":"v2"}}},
{"data":{"values":[{"u":596,"u2":596,"v":779,"v2":1078},{"u":596,"u2":596,"v":1200,"v2":1500}]},
"mark":{"type":"rule","color":"#6a6a6a","strokeWidth":4.5},
"encoding":{"x2":{"field":"u2"},"y2":{"field":"v2"}}},
{"data":{"values":[{"u":124,"u2":124,"v":990,"v2":1288},{"u":1065,"u2":1065,"v":990,"v2":1290}]},
"mark":{"type":"rule","color":"#222222","strokeWidth":4},
"encoding":{"x2":{"field":"u2"},"y2":{"field":"v2"}}},
{"data":{"name":"orbits"},
"mark":{"type":"line","color":"#111111","strokeWidth":4,"interpolate":"catmull-rom"},
"encoding":{"detail":{"field":"o"},"order":{"field":"i"}}},
{"data":{"name":"blobs"},
"mark":{"type":"line","color":"#000000","fill":"#000000","strokeWidth":3,"interpolate":"catmull-rom"},
"encoding":{"detail":{"field":"b"},"order":{"field":"i"}}},
{"data":{"name":"gaps"},
"mark":{"type":"line","color":"#ffffff","strokeWidth":2.5,"interpolate":"catmull-rom","strokeDash":[9,5]},
"encoding":{"detail":{"field":"g"},"order":{"field":"i"}}},
{"data":{"name":"specks"},
"mark":{"type":"square","color":"#ffffff","size":45,"opacity":0.9}},
{"data":{"values":[{"u":96,"v":983.5,"s":"1"},{"u":94,"v":1130.5,"s":"0"},{"u":89,"v":1279.5,"s":"-1"},{"u":93,"v":1317.5,"s":"0"},{"u":222.5,"v":1391,"s":"1000"},{"u":375.5,"v":1459.5,"s":"2000"},{"u":533.5,"v":1528,"s":"3000"},{"u":630,"v":1528,"s":"-1"},{"u":762.5,"v":1475.5,"s":"-0.5"},{"u":859.5,"v":1423.5,"s":"0"},{"u":995.5,"v":1372.5,"s":"0.5"},{"u":1087.5,"v":1329.5,"s":"1"}]},
"mark":{"type":"text","font":"Liberation Sans","fontSize":62,"color":"#333333","align":"center","baseline":"middle"},
"encoding":{"text":{"field":"s"}}},
{"data":{"values":[{"u":252.5,"v":1461.5,"s":"Time"}]},
"mark":{"type":"text","font":"Liberation Sans","fontSize":58,"color":"#000000","align":"center","baseline":"middle"},
"encoding":{"text":{"field":"s"}}},
{"data":{"values":[{"u":27,"v":1127.5,"s":"θ'"},{"u":921.5,"v":1463.5,"s":"θ"}]},
"mark":{"type":"text","font":"Liberation Serif","fontSize":58,"color":"#000000","align":"center","baseline":"middle"},
"encoding":{"text":{"field":"s"}}}
]}
],
"resolve":{"scale":{"x":"independent","y":"independent"},"axis":{"x":"independent","y":"independent"}}
}
